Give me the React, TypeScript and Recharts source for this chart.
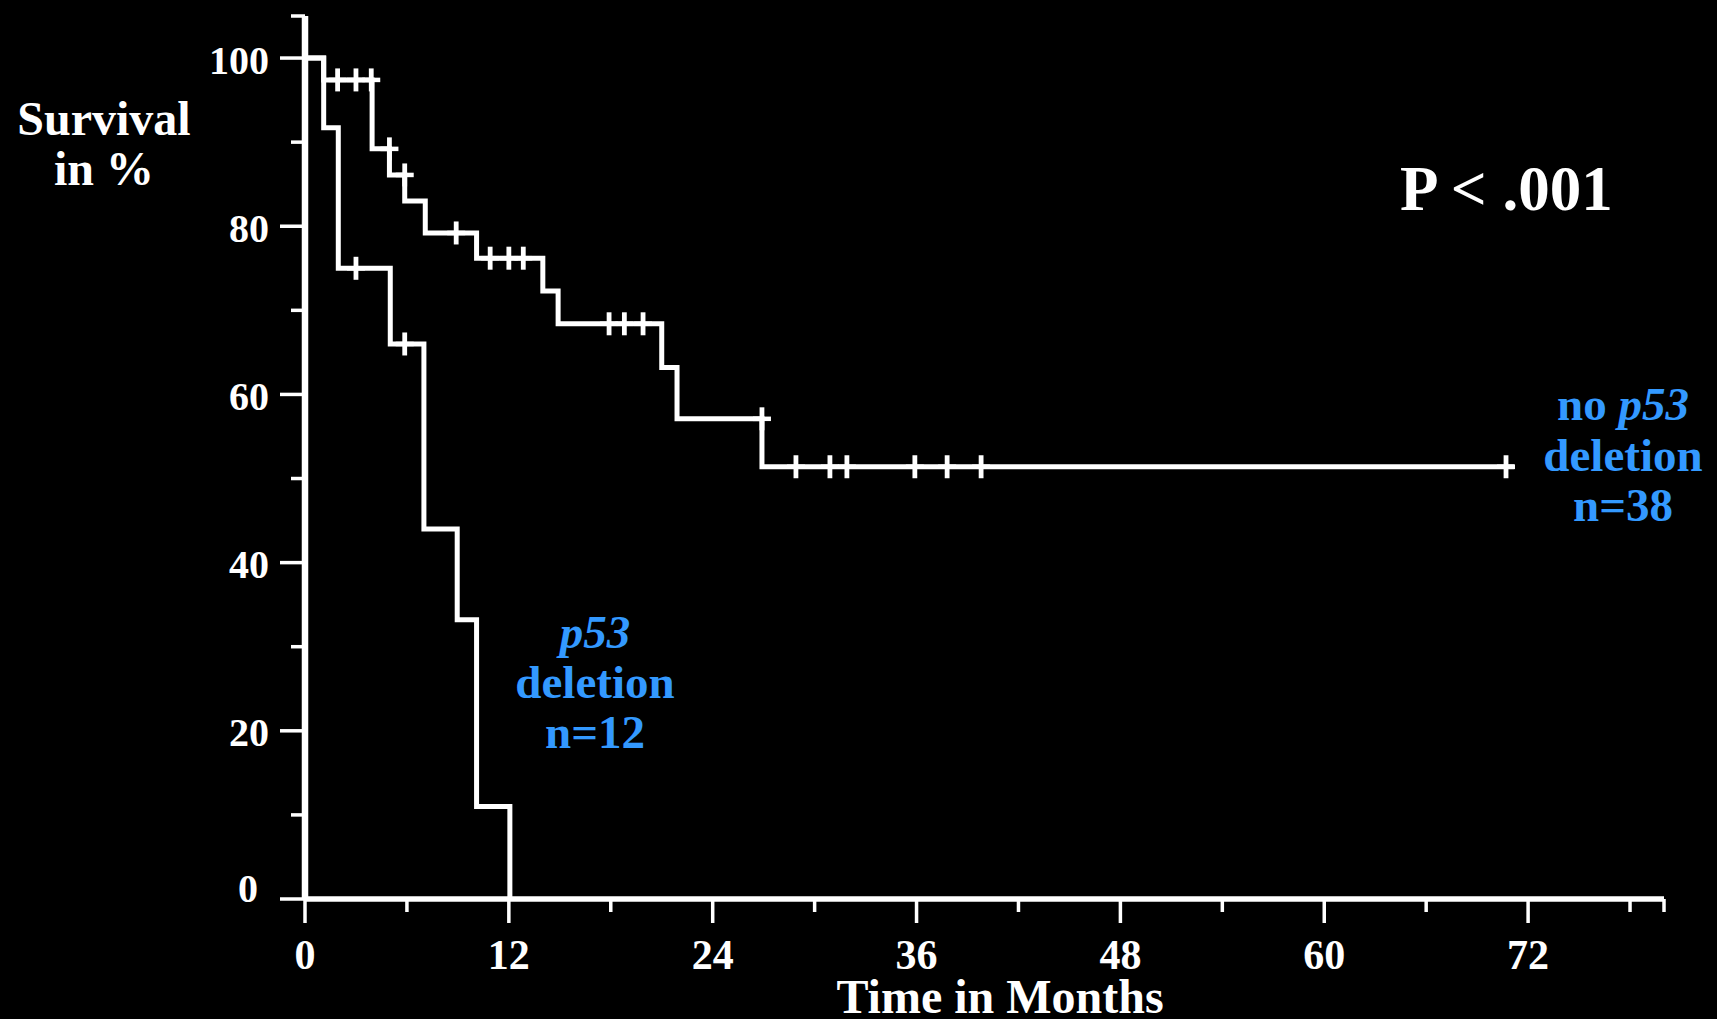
import React from 'react';
import { ComposedChart, Line, Scatter, XAxis, YAxis } from 'recharts';

// Kaplan-Meier step points (time in months, survival %)
const noDeletionSteps = [
  { t: 0, s: 100 },
  { t: 1.1, s: 97.4 },
  { t: 3.95, s: 89.2 },
  { t: 4.97, s: 86.1 },
  { t: 5.87, s: 83.0 },
  { t: 7.08, s: 79.2 },
  { t: 10.1, s: 76.2 },
  { t: 14.0, s: 72.3 },
  { t: 14.9, s: 68.4 },
  { t: 21.0, s: 63.2 },
  { t: 21.9, s: 57.1 },
  { t: 26.9, s: 51.4 },
  { t: 71.2, s: 51.4 },
];

const deletionSteps = [
  { t: 0, s: 100 },
  { t: 1.1, s: 91.7 },
  { t: 1.96, s: 75.0 },
  { t: 5.02, s: 66.0 },
  { t: 7.0, s: 44.0 },
  { t: 8.96, s: 33.2 },
  { t: 10.1, s: 11.0 },
  { t: 12.06, s: 0 },
];

// censored observations
const noDeletionCensored = [
  { t: 1.92, s: 97.4 },
  { t: 3.0, s: 97.4 },
  { t: 3.9, s: 97.4 },
  { t: 4.97, s: 89.2 },
  { t: 5.87, s: 86.1 },
  { t: 8.9, s: 79.2 },
  { t: 10.9, s: 76.2 },
  { t: 12.0, s: 76.2 },
  { t: 12.85, s: 76.2 },
  { t: 17.9, s: 68.4 },
  { t: 18.8, s: 68.4 },
  { t: 19.9, s: 68.4 },
  { t: 26.9, s: 57.1 },
  { t: 28.9, s: 51.4 },
  { t: 30.9, s: 51.4 },
  { t: 31.9, s: 51.4 },
  { t: 35.9, s: 51.4 },
  { t: 37.8, s: 51.4 },
  { t: 39.8, s: 51.4 },
  { t: 70.7, s: 51.4 },
];

const deletionCensored = [
  { t: 3.0, s: 75.0 },
  { t: 5.87, s: 66.0 },
];

const xTicks = [0, 6, 12, 18, 24, 30, 36, 42, 48, 54, 60, 66, 72, 78, 80];
const xMajor = [0, 12, 24, 36, 48, 60, 72];
const yTicks = [0, 10, 20, 30, 40, 50, 60, 70, 80, 90, 100, 105];
const yMajor = [0, 20, 40, 60, 80, 100];

const FONT = '"Liberation Serif", "Times New Roman", serif';
const BLUE = '#3399ff';

const XTick = (props: any) => {
  const { x, y, payload } = props;
  const v = payload.value;
  const major = xMajor.includes(v);
  return (
    <g>
      <line x1={x} x2={x} y1={y} y2={y + (major ? 24 : 13)} stroke="#fff" strokeWidth={3.5} />
      {major && (
        <text x={x} y={y + 70} textAnchor="middle" fill="#fff" fontFamily={FONT} fontWeight="bold" fontSize={42}>
          {v}
        </text>
      )}
    </g>
  );
};

const YTick = (props: any) => {
  const { x, y, payload } = props;
  const v = payload.value;
  const major = yMajor.includes(v);
  const isZero = v === 0;
  return (
    <g>
      <line x1={x - (major ? 25 : 14)} x2={x} y1={y} y2={y} stroke="#fff" strokeWidth={3.5} />
      {major && (
        <text
          x={isZero ? x - 47 : x - 36}
          y={isZero ? y + 3 : y + 15.5}
          textAnchor="end"
          fill="#fff"
          fontFamily={FONT}
          fontWeight="bold"
          fontSize={40}
        >
          {v}
        </text>
      )}
    </g>
  );
};

const CensorMark = (props: any) => {
  const { cx, cy } = props;
  return (
    <g>
      <line x1={cx} x2={cx} y1={cy - 11.5} y2={cy + 11.5} stroke="#fff" strokeWidth={4.8} />
      <line x1={cx - 9} x2={cx + 9} y1={cy} y2={cy} stroke="#fff" strokeWidth={4.5} />
    </g>
  );
};

export default function App() {
  return (
    <div
      style={{
        position: 'absolute',
        left: 0,
        top: 0,
        width: 1717,
        height: 1019,
        background: '#000',
        overflow: 'hidden',
      }}
    >
      <ComposedChart
        width={1717}
        height={1019}
        margin={{ top: 16, right: 53, bottom: 60, left: 205 }}
        style={{ position: 'absolute', left: 0, top: 0 }}
      >
        <XAxis
          type="number"
          dataKey="t"
          domain={[0, 80]}
          ticks={xTicks}
          interval={0}
          allowDataOverflow
          height={60}
          tickSize={0}
          tickMargin={0}
          tickLine={false}
          axisLine={{ stroke: '#fff', strokeWidth: 5.5 }}
          tick={XTick}
        />
        <YAxis
          type="number"
          dataKey="s"
          domain={[0, 105]}
          ticks={yTicks}
          interval={0}
          allowDataOverflow
          width={100}
          tickSize={0}
          tickMargin={0}
          tickLine={false}
          axisLine={{ stroke: '#fff', strokeWidth: 6.5 }}
          tick={YTick}
        />
        <Line
          data={noDeletionSteps}
          dataKey="s"
          type="stepAfter"
          stroke="#fff"
          strokeWidth={5}
          dot={false}
          activeDot={false}
          isAnimationActive={false}
        />
        <Line
          data={deletionSteps}
          dataKey="s"
          type="stepAfter"
          stroke="#fff"
          strokeWidth={5}
          dot={false}
          activeDot={false}
          isAnimationActive={false}
        />
        <Scatter data={noDeletionCensored} dataKey="s" shape={CensorMark} isAnimationActive={false} />
        <Scatter data={deletionCensored} dataKey="s" shape={CensorMark} isAnimationActive={false} />
      </ComposedChart>
      <svg
        width={1717}
        height={1019}
        style={{ position: 'absolute', left: 0, top: 0, pointerEvents: 'none' }}
        fontFamily={FONT}
        fontWeight="bold"
      >
        <text x={104} y={135} textAnchor="middle" fill="#fff" fontSize={48}>Survival</text>
        <text x={104} y={185} textAnchor="middle" fill="#fff" fontSize={48}>in %</text>
        <text x={1000} y={1013} textAnchor="middle" fill="#fff" fontSize={48}>Time in Months</text>
        <text x={1400} y={210} textAnchor="start" fill="#fff" fontSize={63}>P &lt; .001</text>
        <text x={1623} y={420} textAnchor="middle" fill={BLUE} fontSize={47}>
          no <tspan fontStyle="italic">p53</tspan>
        </text>
        <text x={1623} y={471} textAnchor="middle" fill={BLUE} fontSize={47}>deletion</text>
        <text x={1623} y={521} textAnchor="middle" fill={BLUE} fontSize={47}>n=38</text>
        <text x={595} y={648} textAnchor="middle" fill={BLUE} fontSize={47} fontStyle="italic">p53</text>
        <text x={595} y={698} textAnchor="middle" fill={BLUE} fontSize={47}>deletion</text>
        <text x={595} y={748} textAnchor="middle" fill={BLUE} fontSize={47}>n=12</text>
      </svg>
    </div>
  );
}
